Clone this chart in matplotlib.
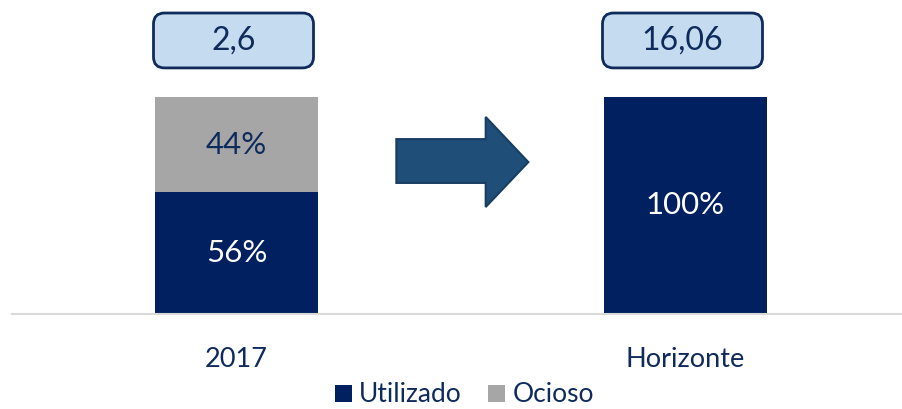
import matplotlib
matplotlib.use("Agg")
import matplotlib.pyplot as plt
from matplotlib.patches import FancyBboxPatch, Polygon, Patch

plt.rcParams['font.family'] = ['Lato', 'DejaVu Sans']

categories = ["2017", "Horizonte"]
utilizado = [56, 100]
ocioso = [44, 0]
totals = ["2,6", "16,06"]
series_names = ["Utilizado", "Ocioso"]

NAVY = "#002060"
GRAY = "#A6A6A6"
TXT = "#0E2B5C"

W, H = 902, 409
fig = plt.figure(figsize=(W / 100, H / 100), dpi=100)
ax = fig.add_axes([12 / W, (H - 314) / H, 898 / W, 314 / H])

x = list(range(len(categories)))
bw = 0.365
ax.bar(x, utilizado, width=bw, color=NAVY, zorder=2)
ax.bar(x, ocioso, width=bw, bottom=utilizado, color=GRAY, zorder=2)

ax.set_xlim(-0.5, 1.5)
ax.set_ylim(0, 144.7)

# bar labels
for i in range(len(categories)):
    if utilizado[i] > 0:
        ax.text(x[i], utilizado[i] / 2, f"{utilizado[i]}%", ha="center", va="center",
                color="white", fontsize=22.5)
    if ocioso[i] > 0:
        ax.text(x[i], utilizado[i] + ocioso[i] / 2, f"{ocioso[i]}%", ha="center", va="center",
                color=TXT, fontsize=22.5)

# total boxes
px_x = 449.0
px_y = 217.0 / 100
bw_box = 160 / px_x
y0, y1 = 113.4, 138.7
for i, t in enumerate(totals):
    cx = x[i] - 3 / px_x
    p = FancyBboxPatch((cx - bw_box / 2, y0), bw_box, y1 - y0,
                       boxstyle="round,pad=0,rounding_size=%f" % (11 / px_x),
                       mutation_aspect=px_x / px_y,
                       facecolor="#C5DCF0", edgecolor=TXT, linewidth=2,
                       transform=ax.transData, clip_on=False, zorder=3)
    ax.add_patch(p)
    ax.text(cx, (y0 + y1) / 2, t, ha="center", va="center", color=TXT,
            fontsize=23, zorder=4)

# arrow
bx0, bx1, tip = 0.356, 0.555, 0.650
by0, by1 = 60.4, 80.6
hy0, hy1, ty = 49.3, 90.8, 70.0
arrow = Polygon([(bx0, by0), (bx1, by0), (bx1, hy0), (tip, ty), (bx1, hy1),
                 (bx1, by1), (bx0, by1)], closed=True,
                facecolor="#1F4E79", edgecolor="#183E62", linewidth=1.5, zorder=2)
ax.add_patch(arrow)

ax.set_xticks(x)
ax.set_xticklabels(categories, fontsize=19.5, color=TXT)
ax.tick_params(axis="x", length=0, pad=24)
ax.set_yticks([])
for s in ["top", "right", "left"]:
    ax.spines[s].set_visible(False)
ax.spines["bottom"].set_color("#D9D9D9")
ax.spines["bottom"].set_linewidth(1.5)

handles = [Patch(facecolor=NAVY, label=series_names[0]),
           Patch(facecolor=GRAY, label=series_names[1])]
leg = fig.legend(handles=handles, loc="center", bbox_to_anchor=(464.5 / W, 1 - 395 / H),
                 ncol=2, frameon=False, fontsize=19, handlelength=0.64,
                 handleheight=0.64, handletextpad=0.27, columnspacing=1.0,
                 borderpad=0, borderaxespad=0)
for t in leg.get_texts():
    t.set_color(TXT)

fig.savefig("out.png", dpi=100)
